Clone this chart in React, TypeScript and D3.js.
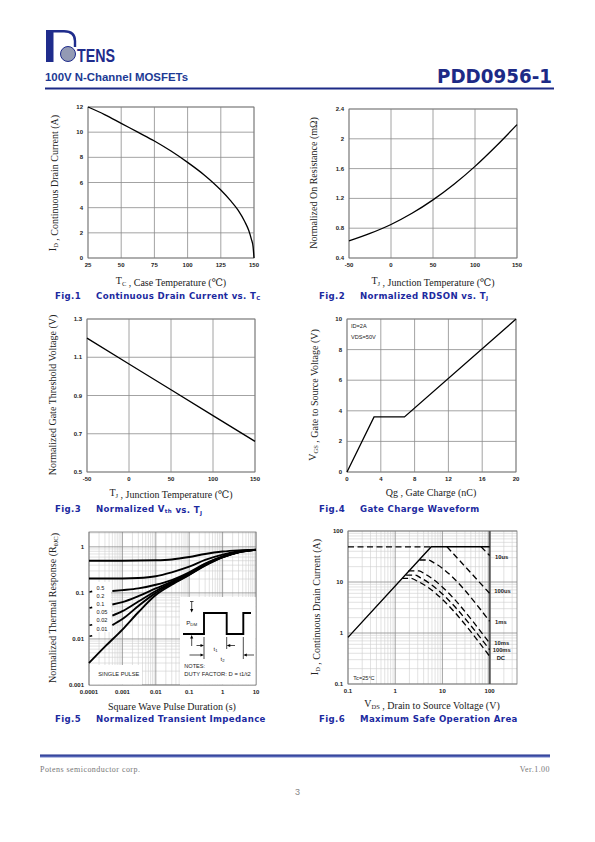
import React from 'react';
import * as d3 from 'd3';

// ---------------- data ----------------
const fig1Tc = [25, 37.5, 50, 62.5, 75, 87.5, 100, 112.5, 125, 132, 138, 143, 146, 148, 149.3, 150];
const fig1Id = [12, 11.4, 10.7, 10.0, 9.3, 8.5, 7.6, 6.6, 5.4, 4.6, 3.8, 2.9, 2.2, 1.5, 0.9, 0];
const fig1XTicks = [25, 50, 75, 100, 125, 150];
const fig1YTicks = [0, 2, 4, 6, 8, 10, 12];

const fig2Tj = [-50, -25, 0, 25, 50, 75, 100, 125, 150];
const fig2R = [0.63, 0.73, 0.85, 1.0, 1.18, 1.39, 1.63, 1.9, 2.19];
const fig2XTicks = [-50, 0, 50, 100, 150];
const fig2YTicks = [0.4, 0.8, 1.2, 1.6, 2, 2.4];

const fig3Tj = [-50, 0, 50, 100, 150];
const fig3Vth = [1.2, 1.065, 0.93, 0.795, 0.66];
const fig3XTicks = [-50, 0, 50, 100, 150];
const fig3YTicks = [0.5, 0.7, 0.9, 1.1, 1.3];

const fig4Qg = [0, 3.2, 6.8, 20];
const fig4Vgs = [0, 3.6, 3.6, 10];
const fig4XTicks = [0, 4, 8, 12, 16, 20];
const fig4YTicks = [0, 2, 4, 6, 8, 10];

const fig5XTicks = [0.0001, 0.001, 0.01, 0.1, 1, 10];
const fig5YTicks = [0.001, 0.01, 0.1, 1];
const fig5Labels = ['0.5', '0.2', '0.1', '0.05', '0.02', '0.01'];
const fig5D05 = [[1e-4, 0.5], [1e-3, 0.5], [0.01, 0.51], [0.03, 0.53], [0.1, 0.6], [0.3, 0.7], [1, 0.79], [3, 0.84], [10, 0.87]];
const fig5D02 = [[1e-4, 0.205], [1e-3, 0.205], [0.003, 0.21], [0.01, 0.23], [0.03, 0.28], [0.1, 0.37], [0.3, 0.52], [1, 0.68], [3, 0.8], [10, 0.87]];
const fig5D01 = [[5e-4, 0.11], [1e-3, 0.115], [3e-3, 0.125], [0.01, 0.15], [0.03, 0.19], [0.1, 0.28], [0.3, 0.43], [1, 0.62], [3, 0.77], [10, 0.86]];
const fig5D005 = [[5e-4, 0.056], [1e-3, 0.063], [3e-3, 0.085], [0.01, 0.125], [0.03, 0.175], [0.1, 0.265], [0.3, 0.42], [1, 0.61], [3, 0.77], [10, 0.86]];
const fig5D002 = [[5e-4, 0.032], [1e-3, 0.04], [3e-3, 0.065], [0.01, 0.11], [0.03, 0.165], [0.1, 0.255], [0.3, 0.41], [1, 0.6], [3, 0.76], [10, 0.86]];
const fig5D001 = [[5e-4, 0.02], [1e-3, 0.027], [3e-3, 0.052], [0.01, 0.1], [0.03, 0.158], [0.1, 0.25], [0.3, 0.4], [1, 0.6], [3, 0.76], [10, 0.86]];
const fig5Single = [[1e-4, 0.003], [3e-4, 0.0068], [1e-3, 0.016], [3e-3, 0.038], [0.01, 0.09], [0.03, 0.15], [0.1, 0.245], [0.3, 0.39], [1, 0.59], [3, 0.76], [10, 0.86]];

const fig6XTicks = [0.1, 1, 10, 100];
const fig6YTicks = [0.1, 1, 10, 100];
const fig6Limit = [[0.1, 0.82], [5.8, 49], [100, 49]];
const fig6RdsDash = [[0.1, 49], [5.8, 49]];
const fig6Us10 = [[66, 49], [100, 33]];
const fig6Us100 = [[12.5, 49], [100, 6]];
const fig6Ms1 = [[3.3, 27], [5, 27], [6.5, 24], [100, 1.7]];
const fig6Ms10 = [[1.9, 16.5], [3.2, 16.5], [4.2, 14.5], [100, 0.63]];
const fig6Ms100 = [[1.7, 13.7], [2.6, 13.7], [3.5, 12], [100, 0.47]];
const fig6DC = [[1.4, 11.8], [2.1, 11.8], [3, 10.3], [100, 0.35]];
const fig6Labels = ['10us', '100us', '1ms', '10ms', '100ms', 'DC'];

// ---------------- styles ----------------
const LOGO = '#1f2c8c';
const CAP = '#1c2aa0';
const GRID = '#8c8c8c';
const MINOR = '#cfcfcf';
const FRAME = '#7a7a7a';
const SERIF = '"Liberation Serif", "DejaVu Serif", serif';
const SANS = '"Liberation Sans", Arial, sans-serif';
const NARROW = '"Liberation Sans Narrow", "Liberation Sans", sans-serif';
const HEAVY = '"DejaVu Sans", Verdana, sans-serif';

type Box = { l: number; t: number; r: number; b: number };

const fmt = (v: number) => String(+v.toFixed(4));

function TickText({ x, y, anchor, children }: any) {
  return (
    <text x={x} y={y} textAnchor={anchor} fontFamily={SANS} fontWeight="bold" fontSize={6} fill="#222">
      {children}
    </text>
  );
}

function LinChart({ box, xDomain, yDomain, xTicks, yTicks, xs, ys, smooth }: any) {
  const x = d3.scaleLinear().domain(xDomain).range([box.l, box.r]);
  const y = d3.scaleLinear().domain(yDomain).range([box.b, box.t]);
  const line = d3
    .line<number>()
    .x((_, i) => x(xs[i]))
    .y((d) => y(d))
    .curve(smooth ? d3.curveMonotoneX : d3.curveLinear);
  return (
    <g>
      <rect x={box.l} y={box.t} width={box.r - box.l} height={box.b - box.t} fill="#fff" />
      {xTicks.map((v: number) => (
        <line key={'gx' + v} x1={x(v)} x2={x(v)} y1={box.t} y2={box.b} stroke={GRID} strokeWidth={0.8} />
      ))}
      {yTicks.map((v: number) => (
        <line key={'gy' + v} x1={box.l} x2={box.r} y1={y(v)} y2={y(v)} stroke={GRID} strokeWidth={0.8} />
      ))}
      <rect x={box.l} y={box.t} width={box.r - box.l} height={box.b - box.t} fill="none" stroke={FRAME} strokeWidth={0.8} />
      {xTicks.map((v: number) => (
        <TickText key={'tx' + v} x={x(v)} y={box.b + 9} anchor="middle">{fmt(v)}</TickText>
      ))}
      {yTicks.map((v: number) => (
        <TickText key={'ty' + v} x={box.l - 5} y={y(v) + 2} anchor="end">{fmt(v)}</TickText>
      ))}
      <path d={line(ys) || ''} fill="none" stroke="#000" strokeWidth={1.3} />
    </g>
  );
}

function LogFrame({ box, x, y, xTicks, yTicks }: any) {
  const isMajor = (v: number) => Math.abs(Math.log10(v) - Math.round(Math.log10(v))) < 1e-6;
  const xt: number[] = x.ticks();
  const yt: number[] = y.ticks();
  return (
    <g>
      <rect x={box.l} y={box.t} width={box.r - box.l} height={box.b - box.t} fill="#fff" />
      {xt.filter((v) => !isMajor(v)).map((v) => (
        <line key={'mx' + v} x1={x(v)} x2={x(v)} y1={box.t} y2={box.b} stroke={MINOR} strokeWidth={0.6} />
      ))}
      {yt.filter((v) => !isMajor(v)).map((v) => (
        <line key={'my' + v} x1={box.l} x2={box.r} y1={y(v)} y2={y(v)} stroke={MINOR} strokeWidth={0.6} />
      ))}
      {xt.filter((v) => isMajor(v)).map((v) => (
        <line key={'Mx' + v} x1={x(v)} x2={x(v)} y1={box.t} y2={box.b} stroke={GRID} strokeWidth={0.8} />
      ))}
      {yt.filter((v) => isMajor(v)).map((v) => (
        <line key={'My' + v} x1={box.l} x2={box.r} y1={y(v)} y2={y(v)} stroke={GRID} strokeWidth={0.8} />
      ))}
      <rect x={box.l} y={box.t} width={box.r - box.l} height={box.b - box.t} fill="none" stroke={FRAME} strokeWidth={0.8} />
      {xTicks.map((v: number) => (
        <TickText key={'tx' + v} x={x(v)} y={box.b + 9} anchor="middle">{fmt(v)}</TickText>
      ))}
      {yTicks.map((v: number) => (
        <TickText key={'ty' + v} x={box.l - 5} y={y(v) + 2} anchor="end">{fmt(v)}</TickText>
      ))}
    </g>
  );
}

function XTitle({ x, y, children }: any) {
  return (
    <text x={x} y={y} textAnchor="middle" fontFamily={SERIF} fontSize={10} fill="#222">
      {children}
    </text>
  );
}
function YTitle({ x, y, children }: any) {
  return (
    <text transform={`translate(${x},${y}) rotate(-90)`} textAnchor="middle" fontFamily={SERIF} fontSize={10} fill="#222">
      {children}
    </text>
  );
}
function Caption({ x, y, n, children }: any) {
  return (
    <text x={x} y={y} fontFamily={HEAVY} fontWeight="bold" fontSize={8.6} fill={CAP} letterSpacing={0.35}>
      {`Fig.${n}`}
      <tspan x={x + 41}>{children}</tspan>
    </text>
  );
}
const sub = (s: string, size = 6.5, d = 2) => [
  <tspan key="s" fontSize={size} dy={d}>{s}</tspan>,
  <tspan key="r" dy={-d}>{''}</tspan>,
];

function Arrow({ x, y, dir }: any) {
  const s = 2.2;
  let p = '';
  if (dir === 'down') p = `M${x},${y} L${x - s * 0.7},${y - s * 1.6} L${x + s * 0.7},${y - s * 1.6}Z`;
  if (dir === 'up') p = `M${x},${y} L${x - s * 0.7},${y + s * 1.6} L${x + s * 0.7},${y + s * 1.6}Z`;
  if (dir === 'right') p = `M${x},${y} L${x - s * 1.6},${y - s * 0.7} L${x - s * 1.6},${y + s * 0.7}Z`;
  if (dir === 'left') p = `M${x},${y} L${x + s * 1.6},${y - s * 0.7} L${x + s * 1.6},${y + s * 0.7}Z`;
  return <path d={p} fill="#000" />;
}

export default function App() {
  // layout boxes
  const b1: Box = { l: 88, t: 107, r: 254, b: 258 };
  const b2: Box = { l: 349, t: 109, r: 517, b: 258 };
  const b3: Box = { l: 87, t: 319, r: 255, b: 472 };
  const b4: Box = { l: 347, t: 319, r: 516, b: 472 };
  const b5: Box = { l: 89, t: 532, r: 256, b: 685 };
  const b6: Box = { l: 348, t: 531, r: 517, b: 684 };

  // fig5 scales
  const x5 = d3.scaleLog().domain([0.0001, 10]).range([b5.l, b5.r]);
  const y5 = d3.scaleLog().domain([0.001, 2.1]).range([b5.b, b5.t]);
  const line5 = d3
    .line<number[]>()
    .x((d) => x5(d[0]))
    .y((d) => y5(d[1]))
    .curve(d3.curveMonotoneX);
  const fig5Curves = [fig5D05, fig5D02, fig5D01, fig5D005, fig5D002, fig5D001, fig5Single];

  // fig6 scales
  const x6 = d3.scaleLog().domain([0.1, 380]).range([b6.l, b6.r]);
  const y6 = d3.scaleLog().domain([0.1, 100]).range([b6.b, b6.t]);
  const line6 = d3
    .line<number[]>()
    .x((d) => x6(d[0]))
    .y((d) => y6(d[1]))
    .curve(d3.curveMonotoneX);
  const line6Lin = d3
    .line<number[]>()
    .x((d) => x6(d[0]))
    .y((d) => y6(d[1]));
  const fig6Dashed = [fig6Us10, fig6Us100, fig6Ms1, fig6Ms10, fig6Ms100, fig6DC];
  const fig6LabelY = [558.7, 592.7, 623.7, 644.7, 652.3, 660.3];
  const fig6LabelX = [495, 494.3, 495, 494.3, 492.7, 496.7];

  // fig5 inset geometry
  const pb = 634, pt = 613;
  const px = [183, 204, 226.7, 243.3, 251];

  return (
    <svg width={595} height={842} style={{ position: 'absolute', left: 0, top: 0, background: '#fff' }} xmlns="http://www.w3.org/2000/svg">
      <rect x={0} y={0} width={595} height={842} fill="#fff" />

      {/* ---------- header ---------- */}
      <g>
        <rect x={46} y={30} width={7.5} height={32} fill={LOGO} />
        <path d="M53 31.3 H64 Q75 31.3 75 41 V47" fill="none" stroke={LOGO} strokeWidth={2.4} />
        <clipPath id="globe">
          <circle cx={68} cy={54} r={7.5} />
        </clipPath>
        <circle cx={68} cy={54} r={7.5} fill="#c3c6d2" />
        <g clipPath="url(#globe)" stroke="#56618f" strokeWidth={0.5}>
          {d3.range(47, 62, 2).map((v) => (
            <line key={'gh' + v} x1={60} x2={76} y1={v} y2={v} />
          ))}
          {d3.range(61, 76, 2).map((v) => (
            <line key={'gv' + v} x1={v} x2={v} y1={46} y2={62} />
          ))}
        </g>
        <circle cx={68} cy={54} r={7.5} fill="none" stroke={LOGO} strokeWidth={1} />
        <text x={77} y={61.7} fontFamily={NARROW} fontWeight="bold" fontSize={18} fill={LOGO} textLength={38} lengthAdjust="spacingAndGlyphs">TENS</text>
        <text x={45} y={81} fontFamily={SANS} fontWeight="bold" fontSize={11.6} fill="#1c3a94" textLength={143} lengthAdjust="spacingAndGlyphs">100V N-Channel MOSFETs</text>
        <text x={552} y={83} textAnchor="end" fontFamily={HEAVY} fontWeight="bold" fontSize={20} fill="#1c2a86" textLength={115} lengthAdjust="spacingAndGlyphs">PDD0956-1</text>
        <rect x={45} y={87.5} width={509} height={2} fill="#1c2a86" />
      </g>

      {/* ---------- Fig 1 ---------- */}
      <LinChart box={b1} xDomain={[25, 150]} yDomain={[0, 12]} xTicks={fig1XTicks} yTicks={fig1YTicks} xs={fig1Tc} ys={fig1Id} smooth />
      <YTitle x={56} y={183}>I{sub('D')} , Continuous Drain Current (A)</YTitle>
      <XTitle x={171} y={284}>T{sub('C')} , Case Temperature (℃)</XTitle>
      <Caption x={55} y={298.5} n={1}>Continuous Drain Current vs. T{sub('C', 5.5, 1.5)}</Caption>

      {/* ---------- Fig 2 ---------- */}
      <LinChart box={b2} xDomain={[-50, 150]} yDomain={[0.4, 2.4]} xTicks={fig2XTicks} yTicks={fig2YTicks} xs={fig2Tj} ys={fig2R} smooth />
      <YTitle x={317} y={183}>Normalized On Resistance (mΩ)</YTitle>
      <XTitle x={433} y={284}>T{sub('J')} , Junction Temperature (℃)</XTitle>
      <Caption x={319} y={298.5} n={2}>Normalized RDSON vs. T{sub('J', 5.5, 1.5)}</Caption>

      {/* ---------- Fig 3 ---------- */}
      <LinChart box={b3} xDomain={[-50, 150]} yDomain={[0.5, 1.3]} xTicks={fig3XTicks} yTicks={fig3YTicks} xs={fig3Tj} ys={fig3Vth} />
      <YTitle x={56} y={395}>Normalized Gate Threshold Voltage (V)</YTitle>
      <XTitle x={171} y={496}>T{sub('J')} , Junction Temperature (℃)</XTitle>
      <Caption x={55} y={511.5} n={3}>Normalized V{sub('th', 5.5, 1.5)} vs. T{sub('J', 5.5, 1.5)}</Caption>

      {/* ---------- Fig 4 ---------- */}
      <LinChart box={b4} xDomain={[0, 20]} yDomain={[0, 10]} xTicks={fig4XTicks} yTicks={fig4YTicks} xs={fig4Qg} ys={fig4Vgs} />
      <text x={351} y={327.7} fontFamily={NARROW} fontSize={5.6} fill="#222">ID=2A</text>
      <text x={351} y={339.3} fontFamily={NARROW} fontSize={5.6} fill="#222">VDS=50V</text>
      <YTitle x={316} y={395}>V{sub('GS')} , Gate to Source Voltage (V)</YTitle>
      <XTitle x={431} y={496}>Qg , Gate Charge (nC)</XTitle>
      <Caption x={319} y={511.5} n={4}>Gate Charge Waveform</Caption>

      {/* ---------- Fig 5 ---------- */}
      <LogFrame box={b5} x={x5} y={y5} xTicks={fig5XTicks} yTicks={fig5YTicks} />
      <rect x={90} y={582} width={21} height={50} fill="#fff" />
      <rect x={90} y={665} width={52} height={19.5} fill="#fff" />
      <rect x={180} y={597} width={75.5} height={87.5} fill="#fff" />
      {fig5Curves.map((c, i) => (
        <path key={'c5' + i} d={line5(c) || ''} fill="none" stroke="#000" strokeWidth={1.9} />
      ))}
      {[592, 608, 625.3, 636.3].map((v, i) => (
        <line key={'mk' + i} x1={89.5} x2={92.2} y1={v} y2={v - 0.6} stroke="#000" strokeWidth={1.6} />
      ))}
      {fig5Labels.map((s, i) => (
        <text key={'l5' + i} x={96.5} y={590 + i * 8.1} fontFamily={NARROW} fontSize={5.6} fill="#222">{s}</text>
      ))}
      <text x={98.3} y={675.5} fontFamily={NARROW} fontSize={5.6} fill="#222" textLength={41} lengthAdjust="spacingAndGlyphs">SINGLE PULSE</text>
      {/* inset */}
      <path d={`M${px[0]},${pb} H${px[1]} V${pt} H${px[2]} V${pb} H${px[3]} V${pt} H${px[4]}`} fill="none" stroke="#000" strokeWidth={1.9} />
      <line x1={190} x2={193.5} y1={601.5} y2={601.5} stroke="#000" strokeWidth={0.7} />
      <line x1={191.7} x2={191.7} y1={601.5} y2={610} stroke="#000" strokeWidth={0.7} />
      <Arrow x={191.7} y={612.5} dir="down" />
      <line x1={191.7} x2={191.7} y1={646} y2={637} stroke="#000" strokeWidth={0.7} />
      <Arrow x={191.7} y={635} dir="up" />
      <text x={186.2} y={625} fontFamily={NARROW} fontSize={6.2} fill="#222">P<tspan fontSize={4.4} dy={1}>DM</tspan></text>
      <line x1={px[1]} x2={px[1]} y1={637} y2={659} stroke="#000" strokeWidth={0.7} />
      <line x1={px[2]} x2={px[2]} y1={637} y2={649} stroke="#000" strokeWidth={0.7} />
      <line x1={px[3]} x2={px[3]} y1={637} y2={659} stroke="#000" strokeWidth={0.7} />
      <line x1={196.5} x2={202} y1={645.5} y2={645.5} stroke="#000" strokeWidth={0.7} />
      <Arrow x={px[1]} y={645.5} dir="right" />
      <line x1={229} x2={235} y1={645.5} y2={645.5} stroke="#000" strokeWidth={0.7} />
      <Arrow x={px[2]} y={645.5} dir="left" />
      <line x1={189.5} x2={202} y1={655} y2={655} stroke="#000" strokeWidth={0.7} />
      <Arrow x={px[1]} y={655} dir="right" />
      <line x1={245.5} x2={254} y1={655} y2={655} stroke="#000" strokeWidth={0.7} />
      <Arrow x={px[3]} y={655} dir="left" />
      <text x={213.5} y={650.5} fontFamily={NARROW} fontSize={6} fill="#222">t<tspan fontSize={4.2} dy={1}>1</tspan></text>
      <text x={220.5} y={660.5} fontFamily={NARROW} fontSize={6} fill="#222">t<tspan fontSize={4.2} dy={1}>2</tspan></text>
      <text x={184.3} y={668} fontFamily={NARROW} fontSize={5.6} fill="#222">NOTES:</text>
      <text x={184.3} y={675.5} fontFamily={NARROW} fontSize={5.6} fill="#222" textLength={66.5} lengthAdjust="spacingAndGlyphs">DUTY FACTOR: D = t1/t2</text>
      <YTitle x={56} y={608}>Normalized Thermal Response (R{sub('θJC')})</YTitle>
      <XTitle x={172} y={710}>Square Wave Pulse Duration (s)</XTitle>
      <Caption x={55} y={721.5} n={5}>Normalized Transient Impedance</Caption>

      {/* ---------- Fig 6 ---------- */}
      <LogFrame box={b6} x={x6} y={y6} xTicks={fig6XTicks} yTicks={fig6YTicks} />
      <line x1={x6(100)} x2={x6(100)} y1={b6.t} y2={b6.b} stroke="#555" strokeWidth={2.2} />
      <path d={line6Lin(fig6Limit) || ''} fill="none" stroke="#000" strokeWidth={1.4} />
      <path d={line6Lin(fig6RdsDash) || ''} fill="none" stroke="#000" strokeWidth={1.3} strokeDasharray="6,3.5" />
      {fig6Dashed.map((c, i) => (
        <path key={'d6' + i} d={line6(c) || ''} fill="none" stroke="#000" strokeWidth={1.3} strokeDasharray="6,3.5" />
      ))}
      {fig6Labels.map((s, i) => (
        <text key={'l6' + i} x={fig6LabelX[i]} y={fig6LabelY[i]} fontFamily={SANS} fontWeight="bold" fontSize={5.8} fill="#222">{s}</text>
      ))}
      <text x={353.3} y={680.3} fontFamily={NARROW} fontSize={5.6} fill="#222">Tc=25°C</text>
      <YTitle x={318} y={607}>I{sub('D')} , Continuous Drain Current (A)</YTitle>
      <XTitle x={432} y={707}>V{sub('DS')} , Drain to Source Voltage (V)</XTitle>
      <Caption x={319} y={721.5} n={6}>Maximum Safe Operation Area</Caption>

      {/* ---------- footer ---------- */}
      <defs>
        <linearGradient id="foot" x1="0" y1="0" x2="0" y2="1">
          <stop offset="0" stopColor="#1a2a8a" />
          <stop offset="1" stopColor="#7080c8" />
        </linearGradient>
      </defs>
      <rect x={40} y={754.5} width={510} height={3} fill="url(#foot)" />
      <text x={40} y={771.5} fontFamily={SERIF} fontSize={8} letterSpacing={0.45} fill="#777">Potens semiconductor corp.</text>
      <text x={550} y={771.5} textAnchor="end" fontFamily={SERIF} fontSize={8} letterSpacing={0.45} fill="#777">Ver.1.00</text>
      <text x={297.5} y={795} textAnchor="middle" fontFamily={SANS} fontSize={9} fill="#888">3</text>
    </svg>
  );
}
